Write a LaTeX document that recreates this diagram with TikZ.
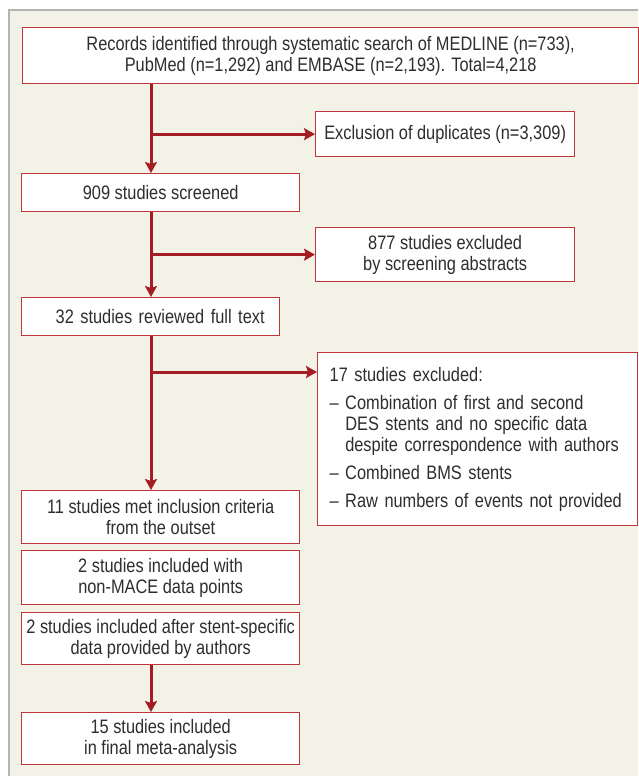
\documentclass[tikz,border=0pt]{standalone}
\usepackage{fontspec}
\setmainfont{Liberation Sans}[FakeStretch=0.84]
\usetikzlibrary{arrows.meta, positioning, calc, backgrounds}
\definecolor{panelbg}{HTML}{F3F2E7}
\definecolor{panelline}{HTML}{B4B4B4}
\definecolor{boxred}{HTML}{C0363C}
\definecolor{arrred}{HTML}{A51D24}
\definecolor{txtgray}{HTML}{2E2E2E}
\tikzset{
  box/.style={draw=boxred, line width=1.3pt, fill=white, text=txtgray, align=center,
    anchor=north west, inner sep=0pt, font=\fontsize{19.5}{21}\selectfont},
  arr/.style={-{Stealth[length=11pt, width=12pt, inset=2pt]}, draw=arrred, line width=3pt},
}
\newcommand{\exdash}{–\ }

\begin{document}
\begin{tikzpicture}[x=1pt, y=-1pt]
    \useasboundingbox (0,0) rectangle (638,776);
    \node[box, minimum width=616pt, minimum height=56pt] (recs) at (22,27)
      {Records identified through systematic search of MEDLINE (n=733),\\
       PubMed (n=1,292) and EMBASE (n=2,193). Total=4,218};
    \node[box, minimum width=259pt, minimum height=45pt] (dup) at (315,111)
      {Exclusion of duplicates (n=3,309)};
    \node[box, minimum width=278pt, minimum height=38pt] (screened) at (21,173)
      {909 studies screened};
    \node[box, minimum width=259pt, minimum height=54pt] (excl) at (315,227)
      {877 studies excluded\\ by screening abstracts};
    \node[box, minimum height=38pt, inner xsep=15pt, text width=228pt, align=right] (fulltext) at (21,297)
      {32 studies reviewed full text};
    \node[box, minimum height=173pt, inner xsep=12pt, text width=296pt, align=left] (excl2) at (317,352)
      {17 studies excluded:\\[7pt]
       \exdash Combination of first and second\\
       \hphantom{\exdash}DES stents and no specific data\\
       \hphantom{\exdash}despite correspondence with authors\\[7pt]
       \exdash Combined BMS stents\\[7pt]
       \exdash Raw numbers of events not provided};
    \node[box, minimum width=278pt, minimum height=53pt] (met) at (21,490)
      {11 studies met inclusion criteria\\ from the outset};
    \node[box, minimum width=278pt, minimum height=54pt] (nonmace) at (21,550)
      {2 studies included with\\ non-MACE data points};
    \node[box, minimum width=278pt, minimum height=52pt] (provided) at (21,612)
      {2 studies included after stent-specific\\ data provided by authors};
    \node[box, minimum width=278pt, minimum height=52pt] (final) at (21,712)
      {15 studies included\\ in final meta-analysis};
    \coordinate (spine) at (151,0);
    \coordinate (in17) at ($(excl2.north west)+(0,20)$);
    \draw[arr] (recs.south -| spine) -- (screened.north -| spine);
    \draw[arr] (dup.west -| spine) -- (dup.west);
    \draw[arr] (screened.south -| spine) -- (fulltext.north -| spine);
    \draw[arr] (excl.west -| spine) -- (excl.west);
    \draw[arr] (fulltext.south -| spine) -- (met.north -| spine);
    \draw[arr] (in17 -| spine) -- (in17);
    \draw[arr] (provided.south -| spine) -- (final.north -| spine);
    \begin{scope}[on background layer]
      \fill[panelbg] (9,10) rectangle (638,776);
      \draw[panelline, line width=1.2pt] (9,776) -- (9,10) -- (638,10);
    \end{scope}
  \end{tikzpicture}
\end{document}
